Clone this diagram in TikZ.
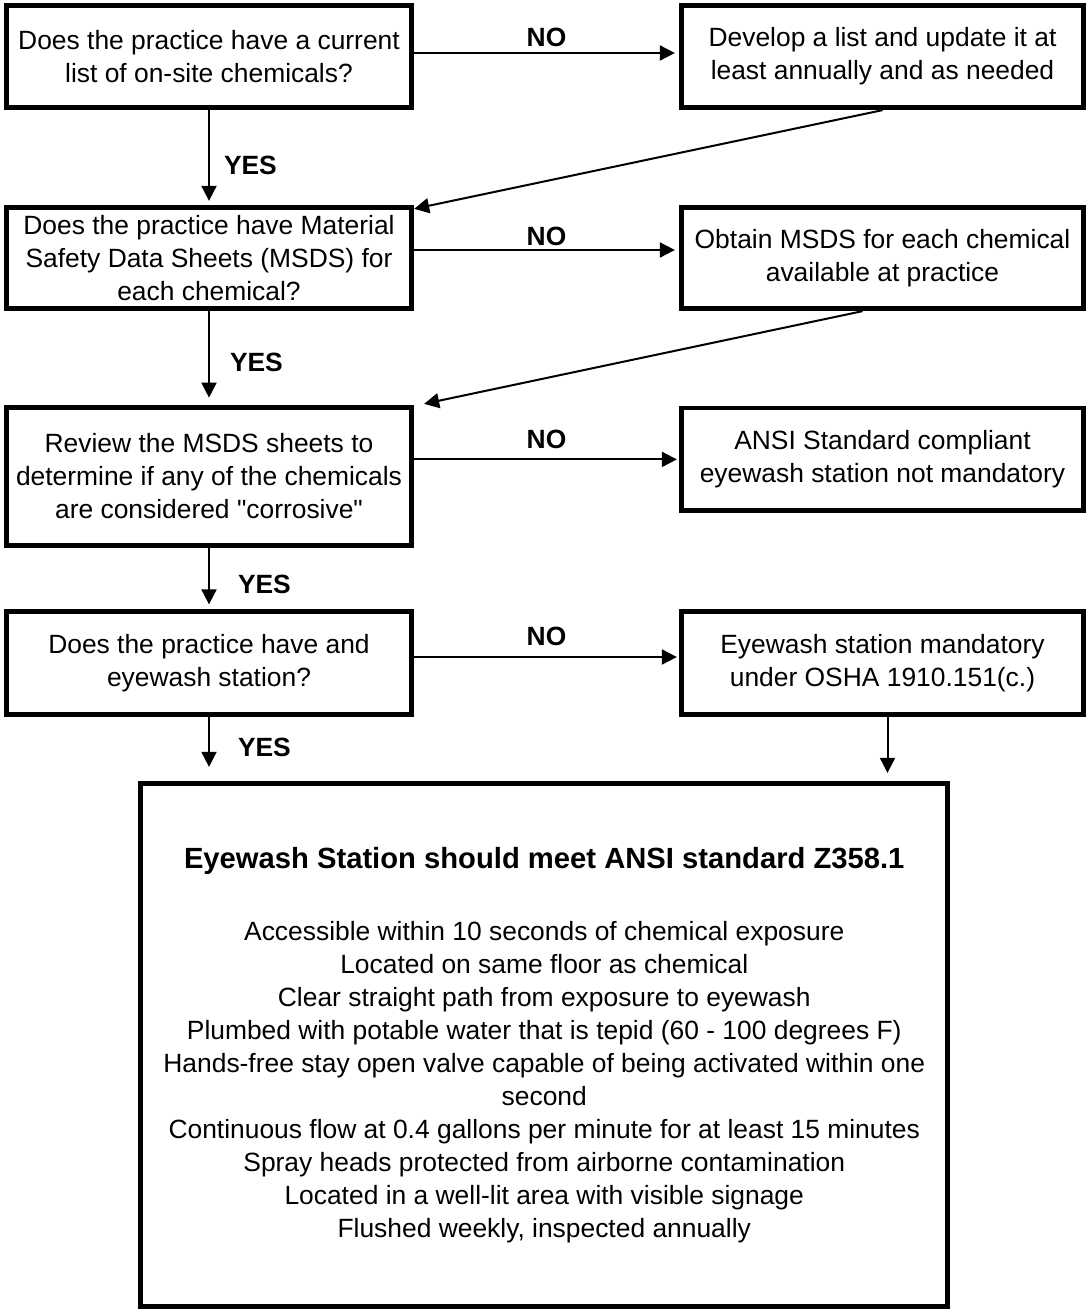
\documentclass[tikz,border=0pt]{standalone}
\usepackage{fontspec}
\setmainfont{Liberation Sans}
\usetikzlibrary{arrows.meta}
\begin{document}
\begin{tikzpicture}[x=0.5pt, y=-0.5pt,
	box/.style={draw=black, line width=2.4pt, align=center, inner sep=0pt, minimum width=202.75pt, minimum height=51.25pt, font=\fontsize{13.2}{16.5}\selectfont},
	flow/.style={black, line width=1pt, -{Triangle[length=7.5pt, width=7.5pt]}},
	answer/.style={font=\fontsize{13.2}{16.5}\selectfont\bfseries, inner sep=0pt}]
\useasboundingbox (0,0) rectangle (1086,1311);
\node [box] (list) at (209, 56.5) {Does the practice have a current\\list of on-site chemicals?};
\node [box, minimum width=201.25pt] (devlist) at (882.5, 56.5) {Develop a list and update it at\\least annually and as needed};
\node [box, minimum height=50.75pt] (msds) at (209, 258) {Does the practice have Material\\Safety Data Sheets (MSDS) for\\each chemical?};
\node [box, minimum width=201.25pt, minimum height=50.75pt] (obtain) at (882.5, 258) {Obtain MSDS for each chemical\\available at practice};
\node [box, minimum height=69.25pt] (review) at (209, 476.5) {Review the MSDS sheets to\\determine if any of the chemicals\\are considered \textquotedbl corrosive\textquotedbl};
\node [box, minimum width=201.25pt, minimum height=51.4pt] (ansi) at (882.5, 459.4) {ANSI Standard compliant\\eyewash station not mandatory};
\node [box, minimum height=51.75pt] (station) at (209, 663) {Does the practice have and\\eyewash station?};
\node [box, minimum width=201.25pt, minimum height=51.75pt] (osha) at (882.5, 663) {Eyewash station mandatory\\under OSHA 1910.151(c.)};
\node [box, minimum width=403.5pt, minimum height=261.75pt] (meet) at (544.25, 1045) {{\fontsize{14.6}{17}\selectfont\bfseries Eyewash Station should meet ANSI standard Z358.1}\\[19.5pt]Accessible within 10 seconds of chemical exposure\\Located on same floor as chemical\\Clear straight path from exposure to eyewash\\Plumbed with potable water that is tepid (60 - 100 degrees F)\\Hands-free stay open valve capable of being activated within one\\second\\Continuous flow at 0.4 gallons per minute for at least 15 minutes\\Spray heads protected from airborne contamination\\Located in a well-lit area with visible signage\\Flushed weekly, inspected annually};
\draw [flow, shorten >=2pt] ([yshift=1.75pt]list.east) -- ([yshift=1.75pt]devlist.west) node [answer, midway, above=2.5pt] {NO};
\draw [flow, shorten >=2pt] ([yshift=4pt]msds.east) -- ([yshift=4pt]obtain.west) node [answer, midway, above=1.5pt] {NO};
\draw [flow, shorten >=1pt] (review.east |- ansi.west) -- (ansi.west) node [answer, midway, above=0pt, fill=white, inner xsep=13pt, text depth=5pt] {NO};
\draw [flow, shorten >=1pt] ([yshift=3pt]station.east) -- ([yshift=3pt]osha.west) node [answer, midway, above=5pt] {NO};
\draw [flow, shorten >=2pt] (list.south) -- (msds.north) node [answer, pos=0.58, right=7pt] {YES};
\draw [flow, shorten >=3.6pt] (msds.south) -- (review.north) node [answer, pos=0.55, right=10pt] {YES};
\draw [flow, shorten >=2.25pt] (review.south) -- (station.north) node [answer, pos=0.6, right=14pt] {YES};
\draw [flow, shorten >=7pt] (station.south) -- (station.south |- meet.north) node [answer, pos=0.47, right=14pt] {YES};
\draw [flow] (devlist.south) -- ([yshift=-2pt]msds.north east);
\draw [flow] ([xshift=-10pt]obtain.south) -- ([xshift=5pt, yshift=0.5pt]review.north east);
\draw [flow, shorten >=4pt] ([xshift=2.5pt]osha.south) -- ([xshift=2.5pt]osha.south |- meet.north);
\end{tikzpicture}
\end{document}
